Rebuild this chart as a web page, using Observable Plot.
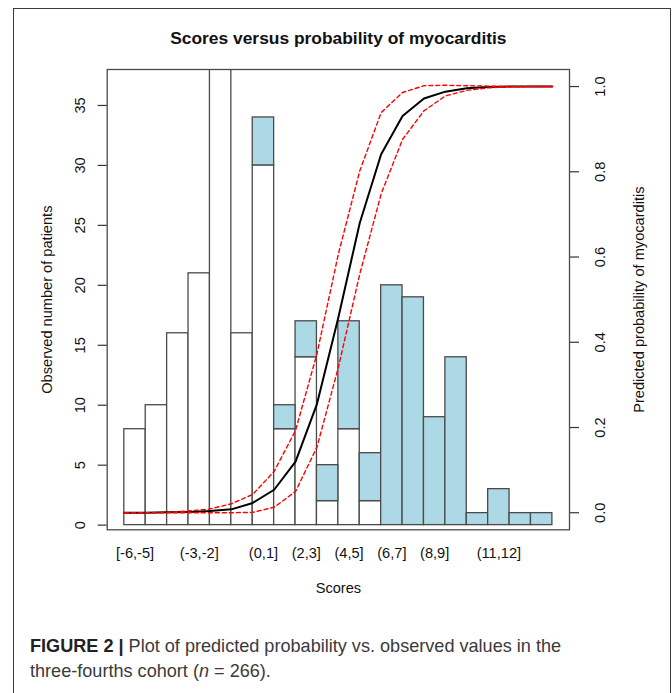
<!DOCTYPE html>
<html>
<head>
<meta charset="utf-8">
<script src="https://cdn.jsdelivr.net/npm/d3@7"></script>
<script src="https://cdn.jsdelivr.net/npm/@observablehq/plot@0.6"></script>
<style>
  html, body { margin: 0; padding: 0; background: #fff; }
  body { position: relative; width: 672px; height: 693px; overflow: hidden; font-family: "Liberation Sans", Arial, sans-serif; }
  #frame { position: absolute; left: 13px; top: 8px; width: 658px; height: 720px; border: 1px solid #3a3a3a; box-sizing: border-box; }
  #chart { position: absolute; left: 0; top: 0; }
  #caption { position: absolute; left: 30px; top: 634px; width: 630px; font-size: 18.1px; line-height: 25px; color: #3a3a3a; white-space: nowrap; }
  #caption b { color: #222; }
</style>
</head>
<body>
<div id="frame"></div>
<div id="chart"></div>
<div id="caption"><b>FIGURE 2 |</b> Plot of predicted probability vs. observed values in the<br>three-fourths cohort (<i>n</i> = 266).</div>
<script>
// Score bins (each bin spans binStart .. binStart+1)
const binLabels = ["[-6,-5]","(-5,-4]","(-4,-3]","(-3,-2]","(-2,-1]","(-1,0]","(0,1]","(1,2]","(2,3]","(3,4]",
                   "(4,5]","(5,6]","(6,7]","(7,8]","(8,9]","(9,10]","(10,11]","(11,12]","(12,13]","(13,14]"];
const binStart = [-6,-5,-4,-3,-2,-1,0,1,2,3,4,5,6,7,8,9,10,11,12,13];
// Observed counts: without myocarditis (white) and with myocarditis (light blue, stacked on top)
const countsWithout = [8,10,16,21,38,16,30,8,14,2,8,2,0,0,0,0,0,0,0,0];
const countsWith    = [0,0,0,0,0,0,4,2,3,3,9,4,20,19,9,14,1,3,1,1];
// Labels displayed under the bars
const shownLabels = ["[-6,-5]","(-3,-2]","(0,1]","(2,3]","(4,5]","(6,7]","(8,9]","(11,12]"];

// Predicted probability curve with confidence band, at integer scores
const curveScores = [-6,-5,-4,-3,-2,-1,0,1,2,3,4,5,6,7,8,9,10,11,12,13,14];
const predicted   = [0.000,0.000,0.001,0.002,0.004,0.008,0.023,0.054,0.120,0.255,0.458,0.680,0.841,0.931,0.972,0.988,0.996,0.999,1.000,1.000,1.000];
const upperCI     = [0.000,0.000,0.001,0.004,0.009,0.021,0.043,0.097,0.193,0.373,0.607,0.802,0.939,0.986,1.002,1.003,1.002,1.001,1.000,1.000,1.000];
const lowerCI     = [0.000,0.000,0.000,0.000,0.000,0.000,0.001,0.013,0.050,0.154,0.341,0.560,0.748,0.876,0.943,0.978,0.991,0.997,0.999,1.000,1.000];

const countTicks = [0,5,10,15,20,25,30,35];
const probTicks = [0,0.2,0.4,0.6,0.8,1.0];

const titleText = "Scores versus probability of myocarditis";
const xTitle = "Scores";
const yLeftTitle = "Observed number of patients";
const yRightTitle = "Predicted probability of myocarditis";

// The right (probability) axis spans -0.04..1.04 over the same frame as counts -0.39..38
const yDomain = [-0.39, 38];
const probDomain = [-0.04, 1.04];
const probToCount = p => yDomain[0] + (p - probDomain[0]) / (probDomain[1] - probDomain[0]) * (yDomain[1] - yDomain[0]);

const bars = binStart.map((s, i) => ({
  label: binLabels[i], lo: s, hi: s + 1,
  neg: countsWithout[i], tot: countsWithout[i] + countsWith[i], pos: countsWith[i]
}));
const curve = curveScores.map((s, i) => ({score: s, pred: predicted[i], up: upperCI[i], low: lowerCI[i]}));
const labelRows = bars.filter(d => shownLabels.includes(d.label));

const W = 672, H = 610;
const stroke = "#4a4a4a";
const fs = 14.6;

const chart = Plot.plot({
  width: W, height: H,
  marginLeft: 106.7, marginRight: 103, marginTop: 69, marginBottom: H - 529.3,
  x: {domain: [-6.8, 14.8], axis: null},
  y: {domain: yDomain},
  style: {fontFamily: "'Liberation Sans', Arial, sans-serif", fontSize: fs + "px", background: "transparent", color: "#111"},
  marks: [
    Plot.rectY(bars.filter(d => d.neg > 0), {x1: "lo", x2: "hi", y1: 0, y2: "neg", fill: "white", stroke, strokeWidth: 1.3, clip: true}),
    Plot.rectY(bars.filter(d => d.pos > 0), {x1: "lo", x2: "hi", y1: "neg", y2: "tot", fill: "#ADD8E6", stroke, strokeWidth: 1.3, clip: true}),
    Plot.line(curve, {x: "score", y: d => probToCount(d.pred), stroke: "black", strokeWidth: 2}),
    Plot.line(curve, {x: "score", y: d => probToCount(d.up), stroke: "#ff0000", strokeWidth: 1.4, strokeDasharray: "4,3"}),
    Plot.line(curve, {x: "score", y: d => probToCount(d.low), stroke: "#ff0000", strokeWidth: 1.4, strokeDasharray: "4,3"}),
    Plot.frame({stroke, strokeWidth: 1.3}),
    Plot.axisY({anchor: "left", ticks: countTicks, tickSize: 9, tickFormat: () => "", label: null, stroke: "#333", strokeWidth: 1.2}),
    Plot.axisY({anchor: "right", ticks: probTicks.map(probToCount), tickSize: 9, tickFormat: () => "", label: null, stroke: "#333", strokeWidth: 1.2}),
    Plot.text(countTicks, {y: d => d, text: d => String(d), frameAnchor: "left", textAnchor: "middle", dx: -27, rotate: -90, fontSize: fs}),
    Plot.text(probTicks, {y: d => probToCount(d), text: d => d.toFixed(1), frameAnchor: "right", textAnchor: "middle", dx: 31, rotate: -90, fontSize: fs}),
    Plot.text([yLeftTitle], {text: d => d, frameAnchor: "left", textAnchor: "middle", dx: -60, rotate: -90, fontSize: fs}),
    Plot.text([yRightTitle], {text: d => d, frameAnchor: "right", textAnchor: "middle", dx: 70, rotate: -90, fontSize: fs}),
    Plot.text(labelRows, {x: d => d.lo + 0.5, text: "label", frameAnchor: "bottom", dy: 28.5, fontSize: fs}),
    Plot.text([xTitle], {text: d => d, frameAnchor: "bottom", dy: 63, fontSize: fs}),
    Plot.text([titleText], {text: d => d, frameAnchor: "top", dy: -37.5, fontSize: 17.4, fontWeight: "bold"})
  ]
});
document.getElementById("chart").appendChild(chart);
</script>
</body>
</html>
